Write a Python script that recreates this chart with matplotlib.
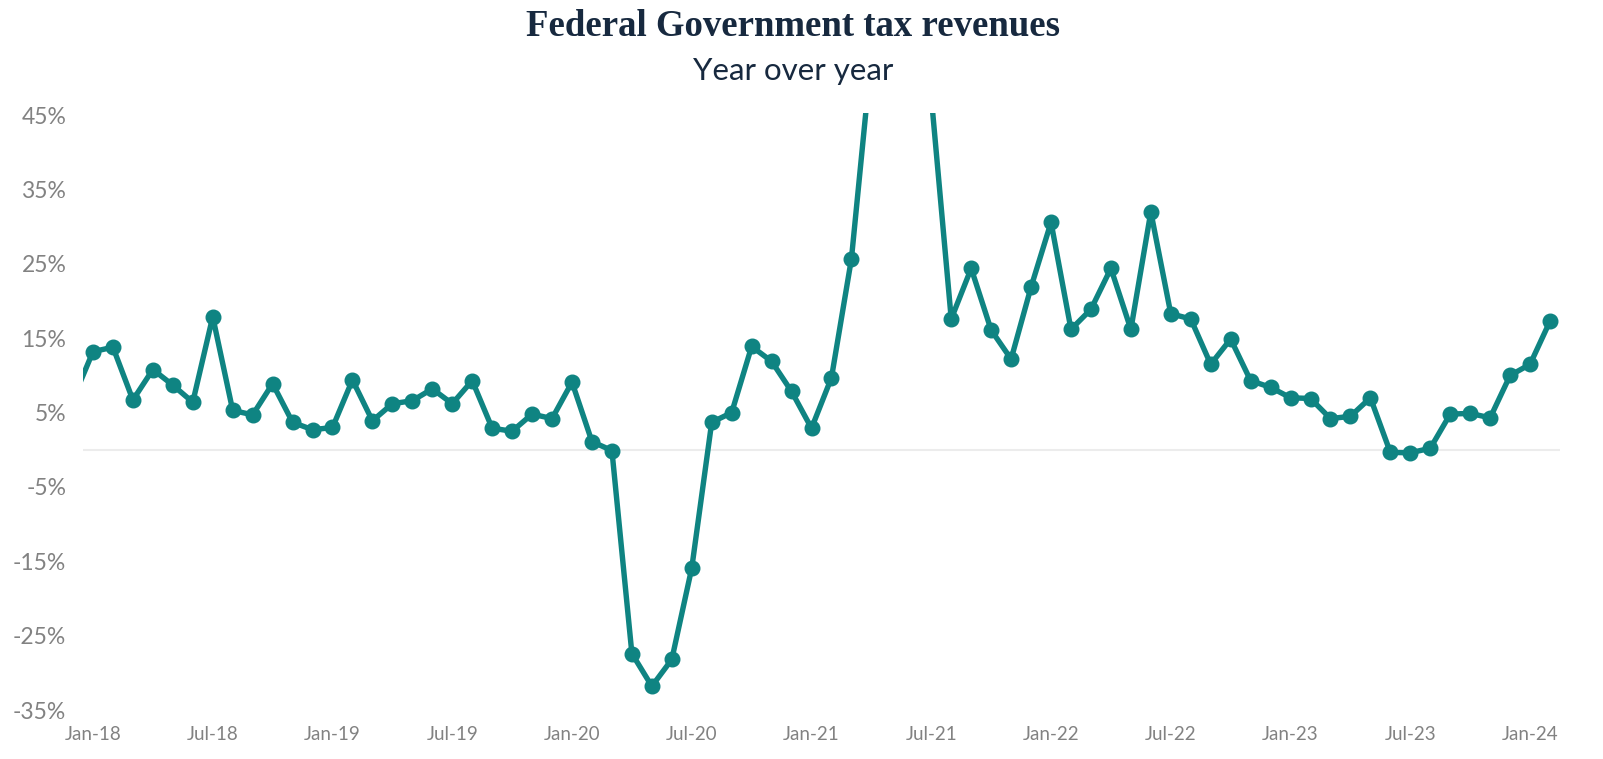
import matplotlib
matplotlib.use("Agg")
import matplotlib.pyplot as plt

# Monthly year-over-year change (%), Dec-17 .. Feb-24 (Jan-18 = index 0)
start_index = -1
values_2017 = [6.8]
values_2018 = [13.2, 13.8, 6.7, 10.8, 8.7, 6.4, 17.9, 5.3, 4.7, 8.9, 3.7, 2.7]
values_2019 = [3.0, 9.4, 3.9, 6.2, 6.6, 8.2, 6.2, 9.3, 2.9, 2.5, 4.8, 4.2]
values_2020 = [9.1, 1.1, -0.1, -27.4, -31.8, -28.2, -15.9, 3.7, 5.0, 13.9, 11.9, 7.85]
values_2021 = [2.9, 9.7, 25.7, 53.0, 95.0, 80.0, 47.5, 17.6, 24.4, 16.1, 12.2, 21.9]
values_2022 = [30.6, 16.2, 18.9, 24.4, 16.2, 32.0, 18.3, 17.6, 11.5, 14.9, 9.3, 8.4]
values_2023 = [7.0, 6.9, 4.2, 4.5, 7.0, -0.35, -0.4, 0.2, 4.8, 4.9, 4.3, 10.0]
values_2024 = [11.5, 17.3]

x_tick_labels = ["Jan-18", "Jul-18", "Jan-19", "Jul-19", "Jan-20", "Jul-20",
                 "Jan-21", "Jul-21", "Jan-22", "Jul-22", "Jan-23", "Jul-23", "Jan-24"]
y_ticks = [-35, -25, -15, -5, 5, 15, 25, 35, 45]

title = "Federal Government tax revenues"
subtitle = "Year over year"

values = (values_2017 + values_2018 + values_2019 + values_2020 + values_2021
          + values_2022 + values_2023 + values_2024)
x = list(range(start_index, start_index + len(values)))

teal = "#0f8482"
navy = "#17293f"
grey = "#828282"

fig = plt.figure(figsize=(16.03, 7.59), dpi=100)
ax = fig.add_axes([83 / 1603, 1 - 713 / 759, (1560 - 83) / 1603, (713 - 113) / 759])

ax.axhline(0, color="#ececec", lw=1.5, zorder=1)
ax.plot(x, values, color=teal, lw=3.9, marker="o", markersize=10.5,
        solid_joinstyle="round", zorder=3, clip_on=True)

ax.set_xlim(-0.5, len(values) + start_index - 0.5)
ax.set_ylim(-35.4, 45.3)

ax.set_xticks(range(0, 6 * len(x_tick_labels), 6))
ax.set_xticklabels(x_tick_labels)
ax.set_yticks(y_ticks)
ax.set_yticklabels([f"{v}%" for v in y_ticks])

for s in ax.spines.values():
    s.set_visible(False)
ax.tick_params(axis="both", length=0, colors=grey)
ax.tick_params(axis="x", labelsize=13.5, pad=9)
ax.tick_params(axis="y", labelsize=16.5, pad=12)
for lab in ax.get_xticklabels() + ax.get_yticklabels():
    lab.set_family("Lato")
    lab.set_color(grey)

fig.text(0.4947, 1 - 26 / 759, title, ha="center", va="center",
         family="Liberation Serif", fontweight="bold", fontsize=26.5, color=navy)
fig.text(0.4947, 1 - 71 / 759, subtitle, ha="center", va="center",
         family="Lato", fontsize=22.5, color=navy)

fig.savefig("out.png", dpi=100, facecolor="white")
